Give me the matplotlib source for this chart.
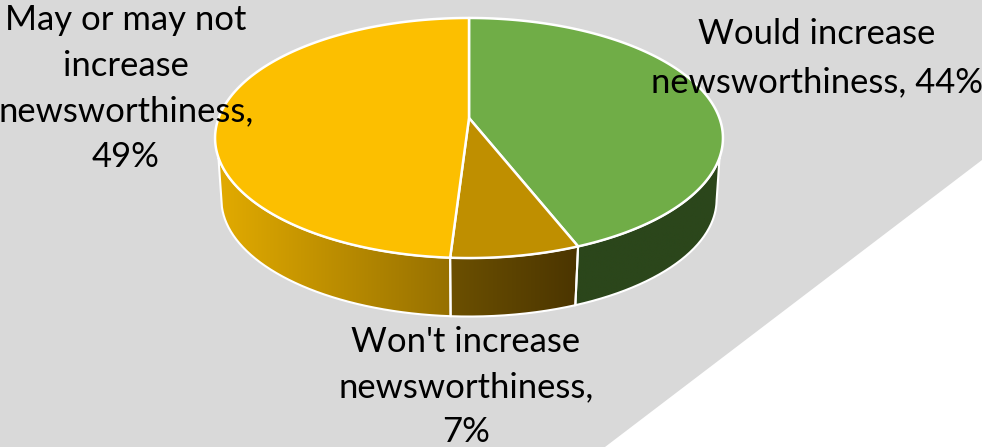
import numpy as np
import matplotlib
matplotlib.use("Agg")
import matplotlib.pyplot as plt
from matplotlib.colors import LinearSegmentedColormap
from matplotlib.patches import Polygon, PathPatch
from matplotlib.path import Path

# ---------------------------
# Data
# ---------------------------

labels = ["Would increase\nnewsworthiness, 44%",
          "Won't increase\nnewsworthiness,\n7%",
          "May or may not\nincrease\nnewsworthiness,\n49%"]
values = [44, 7, 49]
top_colors = ["#70AD47", "#BF8F00", "#FCBF00"]
wall_left = ["#2B461B", "#6C5000", "#E2AB00"]
wall_right = ["#2B461B", "#4B3500", "#967000"]

# ---------------------------
# Pie geometry (pixel space)
# ---------------------------

CX, CY = 469, 118
A, B, K = 250.4, 116.7, 1 / 6
BOTTOM_CY, BOTTOM_SCALE = 180, 0.975
TOP_EDGE = (0.302, 0.698)     # where the wall meets the top rim
BOTTOM_EDGE = (0.278, 0.722)  # where the wall outline turns on the lower rim


def rim(frac, cy=CY, scale=1.0):
    """Points on the tilted circle, frac runs clockwise from 12 o'clock"""
    t = 2 * np.pi * np.asarray(frac, dtype=float)
    u, v = np.sin(t), np.cos(t)
    w = 1 + K * v
    return np.column_stack((CX + scale * A * u / w, cy - scale * B * v / w))


def wall_outline(f0, f1):
    ft = np.linspace(max(f0, TOP_EDGE[0]), min(f1, TOP_EDGE[1]), 120)
    fb = np.linspace(max(f0, BOTTOM_EDGE[0]), min(f1, BOTTOM_EDGE[1]), 120)
    return np.vstack((rim(ft), rim(fb[::-1], BOTTOM_CY, BOTTOM_SCALE)))


fig = plt.figure(figsize=(9.82, 4.47), dpi=100)
ax = fig.add_axes([0, 0, 1, 1])
ax.set_xlim(0, 982)
ax.set_ylim(447, 0)
ax.axis("off")

# grey backdrop, cut off at the lower right corner
ax.add_patch(Polygon([(0, 0), (982, 0), (982, 160), (605, 447), (0, 447)],
                     facecolor="#D9D9D9", edgecolor="none", zorder=0))

edges = np.cumsum([0] + values) / sum(values)

# side walls with horizontal gradients
for i in range(len(values)):
    f0, f1 = edges[i], edges[i + 1]
    if f1 < TOP_EDGE[0] or f0 > TOP_EDGE[1]:
        continue
    outline = wall_outline(f0, f1)
    cmap = LinearSegmentedColormap.from_list(f"wall{i}", [wall_left[i], wall_right[i]])
    x0, x1 = outline[:, 0].min(), outline[:, 0].max()
    y0, y1 = outline[:, 1].min(), outline[:, 1].max()
    im = ax.imshow(np.linspace(0, 1, 256)[None, :], cmap=cmap, aspect="auto",
                   extent=(x0, x1, y1, y0), zorder=2, interpolation="bilinear")
    patch = PathPatch(Path(np.vstack((outline, outline[0]))), facecolor="none",
                      edgecolor="white", linewidth=1.5, zorder=3)
    ax.add_patch(patch)
    im.set_clip_path(patch)

ax.set_xlim(0, 982)
ax.set_ylim(447, 0)

# top face
for i in range(len(values)):
    arc = rim(np.linspace(edges[i], edges[i + 1], 200))
    ax.add_patch(Polygon(np.vstack(([CX, CY], arc)), closed=True, facecolor=top_colors[i],
                         edgecolor="white", linewidth=1.8, joinstyle="round", zorder=4))

# ---------------------------
# Labels
# ---------------------------

label_pos = [(817, 58), (466, 387), (126, 88.5)]
label_spacing = [1.62, 1.5, 1.53]
for text, (x, y), gap in zip(labels, label_pos, label_spacing):
    ax.text(x, y, text, ha="center", va="center", fontsize=24.9, family="Lato",
            color="black", linespacing=gap, zorder=6)

fig.savefig("out.png", dpi=100)
